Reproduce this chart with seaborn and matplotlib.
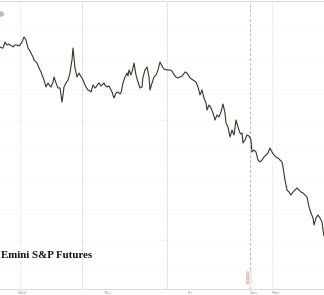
import matplotlib
matplotlib.use("Agg")
import matplotlib.pyplot as plt
import seaborn as sns
import pandas as pd
from matplotlib.patches import Circle

# time position (session ticks) and price
t = [0, 2, 3, 5, 7, 9, 10, 12, 13, 15, 17, 19, 20, 22, 24, 26, 28, 30, 31, 33,
     34, 36, 37, 39, 41, 42, 44, 46, 48, 50, 51, 53, 54, 56, 58, 60, 61, 62, 63, 64,
     66, 68, 70, 71, 72, 73, 74, 75, 77, 79, 80, 82, 83, 85, 86, 88, 90, 91, 93, 95,
     96, 98, 99, 101, 102, 104, 105, 107, 109, 110, 112, 114, 116, 118, 120, 121, 123, 125, 127, 128,
     129, 131, 133, 134, 136, 138, 140, 142, 143, 145, 147, 149, 150, 152, 154, 156, 158, 160, 162, 164,
     167, 170, 172, 173, 175, 176, 178, 180, 182, 183, 185, 187, 189, 190, 193, 196, 198, 200, 202, 204,
     206, 207, 209, 211, 213, 215, 217, 219, 221, 222, 223, 225, 226, 228, 230, 232, 234, 236, 238, 240,
     241, 242, 243, 245, 247, 249, 250, 251, 252, 254, 256, 258, 260, 262, 264, 266, 268, 270, 272, 274,
     276, 278, 280, 282, 283, 285, 287, 289, 291, 293, 295, 297, 299, 301, 303, 305, 307, 309, 311, 313,
     314, 316, 318, 320, 322, 323, 324]
price = [3953, 3952, 3952, 3958, 3955, 3956, 3955, 3954, 3953, 3955, 3955, 3954, 3955, 3958, 3963, 3960, 3952, 3949, 3947, 3943,
         3940, 3938, 3937, 3932, 3928, 3925, 3920, 3913, 3917, 3914, 3913, 3918, 3923, 3917, 3912, 3912, 3905, 3898, 3905, 3913,
         3917, 3920, 3927, 3934, 3940, 3952, 3942, 3932, 3923, 3927, 3925, 3922, 3920, 3915, 3913, 3910, 3909, 3908, 3915, 3912,
         3913, 3916, 3917, 3914, 3915, 3917, 3915, 3913, 3914, 3912, 3908, 3902, 3907, 3908, 3906, 3907, 3917, 3923, 3927, 3924,
         3930, 3925, 3932, 3937, 3925, 3918, 3912, 3913, 3923, 3930, 3933, 3923, 3910, 3917, 3923, 3925, 3930, 3938, 3934, 3931,
         3930, 3930, 3929, 3927, 3924, 3923, 3922, 3923, 3924, 3925, 3928, 3927, 3924, 3922, 3920, 3918, 3913, 3905, 3910, 3902,
         3897, 3890, 3895, 3892, 3887, 3880, 3885, 3883, 3888, 3892, 3896, 3887, 3877, 3873, 3863, 3870, 3865, 3880, 3873, 3867,
         3866, 3867, 3857, 3860, 3865, 3864, 3862, 3860, 3848, 3850, 3848, 3840, 3838, 3840, 3843, 3845, 3847, 3852, 3848, 3845,
         3843, 3842, 3840, 3838, 3833, 3820, 3810, 3808, 3805, 3808, 3810, 3812, 3810, 3808, 3807, 3805, 3803, 3793, 3787, 3782,
         3775, 3782, 3785, 3782, 3778, 3770, 3764]

day_lines = [20, 82, 167, 250, 272]
day_labels = ["Wed", "Thu", "Fri", "Sun", "Mon"]
label_pos = [22, 107, 190, 254, 276]

df = pd.DataFrame({"t": t, "price": price})

sns.set_theme(style="white")
fig = plt.figure(figsize=(3.24, 2.95), dpi=100)
ax = fig.add_axes([0, 1 - 289 / 295, 1, 288 / 295])

top_px, bot_px = 1, 289
ax.set_ylim(4000 - bot_px, 4000 - top_px)
ax.set_xlim(0, 324)

# faint horizontal grid
for yv in [3970, 3940, 3910, 3880, 3850, 3820, 3790, 3760, 3730]:
    ax.axhline(yv, color="#f5f5f5", lw=0.5, zorder=0)

styles = [("#eeeeee", "-", 0.6), ("#dedede", "-", 0.6), ("#d4d4d4", (0, (2, 1)), 0.6),
          ("#cbb4b4", (0, (3, 2)), 0.7), ("#eeeeee", "-", 0.6)]
for xv, (c, ls, lw) in zip(day_lines, styles):
    ax.axvline(xv, color=c, ls=ls, lw=lw, zorder=0)

sns.lineplot(data=df, x="t", y="price", ax=ax, color="#3a3328", lw=0.8, zorder=3)

ax.set_xticks([])
ax.set_yticks([])
ax.set_xlabel("")
ax.set_ylabel("")
for s in ["left", "right"]:
    ax.spines[s].set_visible(False)
ax.spines["top"].set_color("#dddddd")
ax.spines["top"].set_linewidth(0.8)
ax.spines["bottom"].set_color("#dddddd")
ax.spines["bottom"].set_linewidth(0.8)

for xl, lab in zip(label_pos, day_labels):
    fig.text(xl / 324, 1 - 293 / 295, lab, fontsize=3, color="#999999",
             ha="center", va="center")

# small rotated date tag near the dashed line
fig.text(249 / 324, 1 - 277 / 295, "3/10/23", fontsize=2.5, color="#c07070",
         rotation=90, ha="center", va="center",
         bbox=dict(boxstyle="square,pad=0.2", fc="#f8e6e6", ec="none"))

fig.text(1 / 324, 1 - 256 / 295, "Emini S&P Futures", fontsize=7.8,
         fontweight="bold", family="Liberation Serif", color="#111111",
         ha="left", va="center")

fig.patches.append(Circle((1 / 324, 1 - 14 / 295), 3 / 324, transform=fig.transFigure,
                          fc="#bbbbbb", ec="none"))

fig.savefig("out.png", dpi=100)
